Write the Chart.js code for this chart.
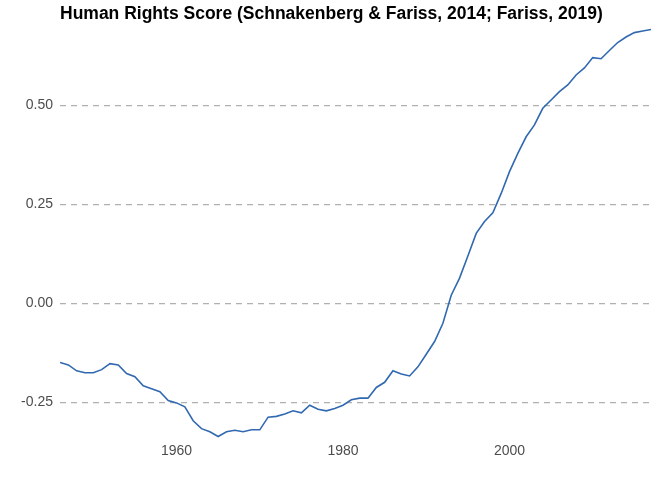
<!DOCTYPE html>
<html>
<head>
<meta charset="utf-8">
<script src="https://cdn.jsdelivr.net/npm/chart.js@4/dist/chart.umd.min.js"></script>
<style>
  html, body { margin: 0; padding: 0; background: #ffffff; }
  #wrap { width: 672px; height: 480px; }
</style>
</head>
<body>
<div id="wrap"><canvas id="c" width="672" height="480"></canvas></div>
<script>
const titleText = "Human Rights Score (Schnakenberg & Fariss, 2014; Fariss, 2019)";
const years = [];
for (let y = 1946; y <= 2017; y++) years.push(y);
const scores = [
  -0.149, -0.155, -0.170, -0.175, -0.175, -0.167, -0.152, -0.155, -0.177, -0.185,
  -0.208, -0.215, -0.223, -0.245, -0.251, -0.261, -0.296, -0.316, -0.324, -0.336,
  -0.324, -0.320, -0.324, -0.319, -0.319, -0.287, -0.285, -0.279, -0.271, -0.276,
  -0.257, -0.267, -0.271, -0.265, -0.257, -0.243, -0.239, -0.239, -0.212, -0.199,
  -0.170, -0.178, -0.183, -0.160, -0.128, -0.096, -0.050, 0.021, 0.064, 0.120,
  0.177, 0.207, 0.229, 0.278, 0.333, 0.379, 0.421, 0.451, 0.493, 0.514,
  0.535, 0.552, 0.577, 0.595, 0.621, 0.618, 0.639, 0.659, 0.673, 0.684,
  0.688, 0.692
];
const xTicks = [1960, 1980, 2000];
const yTicks = [-0.25, 0.00, 0.25, 0.50];

const points = years.map((y, i) => ({ x: y, y: scores[i] }));

const titlePlugin = {
  id: 'leftTitle',
  afterDraw(chart) {
    const ctx = chart.ctx;
    ctx.save();
    ctx.font = 'bold 17.5px "Liberation Sans", Arial, sans-serif';
    ctx.fillStyle = '#000000';
    ctx.textAlign = 'left';
    ctx.textBaseline = 'middle';
    ctx.fillText(titleText, chart.chartArea.left, 14);
    ctx.restore();
  }
};

new Chart(document.getElementById('c'), {
  type: 'line',
  data: {
    datasets: [{
      data: points,
      borderColor: '#3169b1',
      borderWidth: 1.6,
      pointRadius: 0,
      tension: 0,
      fill: false
    }]
  },
  options: {
    responsive: false,
    animation: false,
    devicePixelRatio: 1,
    layout: { padding: { top: 26.3, right: 21, bottom: 0, left: 0 } },
    plugins: { legend: { display: false }, title: { display: false }, tooltip: { enabled: false } },
    scales: {
      x: {
        type: 'linear',
        min: 1946,
        max: 2017,
        afterBuildTicks(scale) { scale.ticks = xTicks.map(v => ({ value: v })); },
        afterFit(scale) { scale.height = 480 - 442.1; },
        grid: { display: false, drawTicks: false },
        border: { display: false },
        ticks: {
          padding: 1,
          color: '#4d4d4d',
          font: { family: '"Liberation Sans", Arial, sans-serif', size: 14 },
          maxRotation: 0,
          callback: v => String(v)
        }
      },
      y: {
        type: 'linear',
        min: -0.35,
        max: 0.70,
        afterBuildTicks(scale) { scale.ticks = yTicks.map(v => ({ value: v })); },
        afterFit(scale) { scale.width = 60; },
        grid: { color: '#b0b0b0', lineWidth: 1.3, drawTicks: false },
        border: { display: false, dash: [6, 5] },
        ticks: {
          padding: 7,
          color: '#4d4d4d',
          font: { family: '"Liberation Sans", Arial, sans-serif', size: 14 },
          callback: v => Number(v).toFixed(2)
        }
      }
    }
  },
  plugins: [titlePlugin]
});
</script>
</body>
</html>
